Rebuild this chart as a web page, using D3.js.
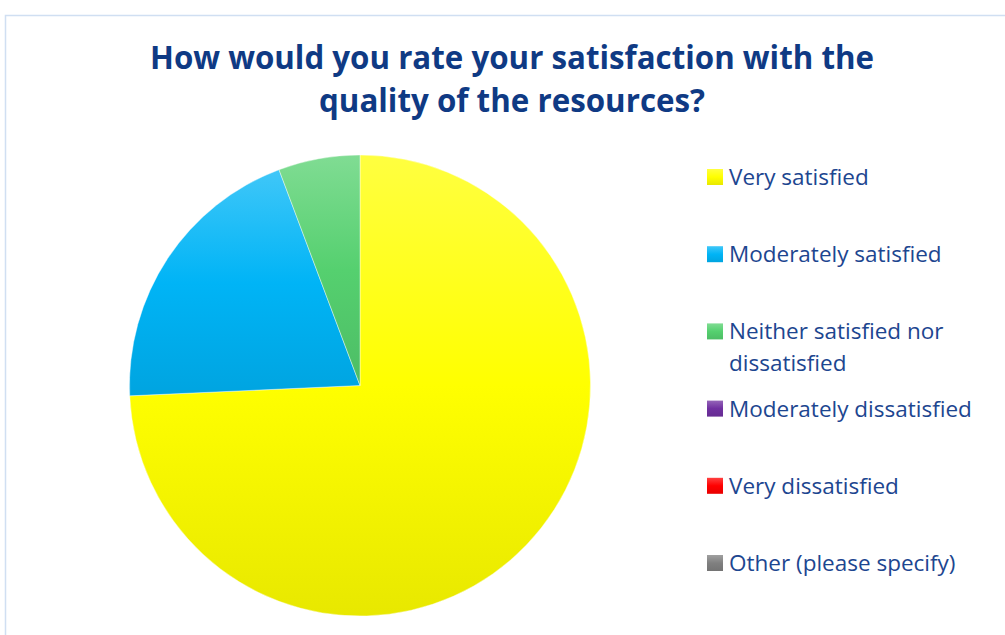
<!DOCTYPE html>
<html>
<head>
<meta charset="utf-8">
<script src="https://cdn.jsdelivr.net/npm/d3@7"></script>
<style>
  html, body { margin: 0; padding: 0; background: #fff; }
</style>
</head>
<body>
<div id="chart"></div>
<script>
const categories = [
  "Very satisfied",
  "Moderately satisfied",
  "Neither satisfied nor dissatisfied",
  "Moderately dissatisfied",
  "Very dissatisfied",
  "Other (please specify)"
];
// legend lines (the long one wraps in the original)
const legendLines = [
  ["Very satisfied"],
  ["Moderately satisfied"],
  ["Neither satisfied nor", "dissatisfied"],
  ["Moderately dissatisfied"],
  ["Very dissatisfied"],
  ["Other (please specify)"]
];
const responses = [26, 7, 2, 0, 0, 0];
const baseColors = ["#ffff00", "#00b4f6", "#55d06f", "#7030a0", "#ff0000", "#808080"];
const titleLines = ["How would you rate your satisfaction with the", "quality of the resources?"];

const w = 1005, h = 635;
const cx = 360, cy = 385.5, r = 230.5;

const svg = d3.select("#chart").append("svg")
  .attr("width", w)
  .attr("height", h);

// light gradients like the office style: tint at top, base in the middle, shade at bottom
const defs = svg.append("defs");
baseColors.forEach((c, i) => {
  const g = defs.append("linearGradient")
    .attr("id", "grad" + i)
    .attr("x1", 0).attr("y1", 0).attr("x2", 0).attr("y2", 1);
  g.append("stop").attr("offset", "0%").attr("stop-color", d3.interpolateRgb(c, "#fff")(0.25));
  g.append("stop").attr("offset", "50%").attr("stop-color", c);
  g.append("stop").attr("offset", "100%").attr("stop-color", d3.interpolateRgb(c, "#000")(0.09));
});

// chart area border
svg.append("rect")
  .attr("x", 5.5).attr("y", 15.5)
  .attr("width", 1100).attr("height", 700)
  .attr("fill", "none")
  .attr("stroke", "#d0dff2")
  .attr("stroke-width", 1.5);

// title
svg.append("g").selectAll("text")
  .data(titleLines)
  .enter()
  .append("text")
  .attr("x", 512)
  .attr("y", (d, i) => 69 + i * 43)
  .attr("text-anchor", "middle")
  .attr("font-family", "'Open Sans', 'Noto Sans', sans-serif")
  .attr("font-weight", "bold")
  .attr("font-size", "31.5px")
  .attr("fill", "#0f3a84")
  .attr("textLength", (d, i) => i === 0 ? 724 : 386)
  .attr("lengthAdjust", "spacingAndGlyphs")
  .text(d => d);

// pie
const pie = d3.pie().sort(null).value(d => d);
const arc = d3.arc().innerRadius(0).outerRadius(r);
const slices = pie(responses);

svg.append("g")
  .attr("transform", `translate(${cx},${cy})`)
  .selectAll("path")
  .data(slices.filter(s => s.value > 0))
  .enter()
  .append("path")
  .attr("d", arc)
  .attr("fill", d => `url(#grad${d.index})`)
  .attr("stroke", "#ffffff")
  .attr("stroke-opacity", 0.5)
  .attr("stroke-width", 0.8);

// legend
const legendY = d3.scalePoint()
  .domain(categories)
  .range([185, 571]);

const items = svg.append("g").selectAll("g")
  .data(categories)
  .enter()
  .append("g")
  .attr("transform", d => `translate(707,${legendY(d)})`);

items.append("rect")
  .attr("x", 0)
  .attr("y", -16)
  .attr("width", 16)
  .attr("height", 16)
  .attr("fill", (d, i) => `url(#grad${i})`);

items.append("text")
  .attr("font-family", "'Open Sans', 'Noto Sans', sans-serif")
  .attr("font-size", "22.5px")
  .attr("fill", "#1d4690")
  .selectAll("tspan")
  .data((d, i) => legendLines[i])
  .enter()
  .append("tspan")
  .attr("x", 22)
  .attr("y", (d, j) => j * 32)
  .text(d => d);
</script>
</body>
</html>
